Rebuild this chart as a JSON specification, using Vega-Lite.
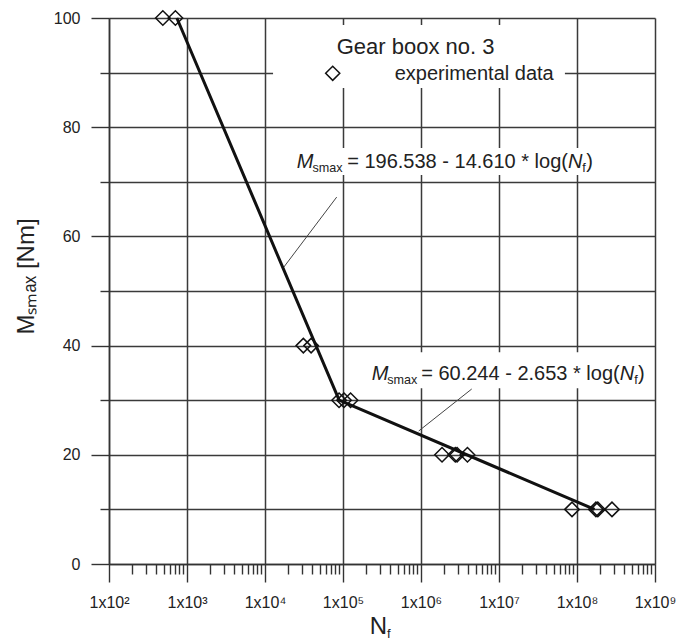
{
  "$schema": "https://vega.github.io/schema/vega-lite/v6.json",
  "width": 546,
  "height": 546,
  "autosize": {"type": "none"},
  "padding": {"left": 109, "top": 18, "right": 36, "bottom": 78},
  "background": "white",
  "config": {"view": {"stroke": null}, "font": "Liberation Sans"},
  "datasets": {
    "boxes": [
      {"N1": 12680, "N2": 7.0e7, "M1": 98.7, "M2": 87.2},
      {"N1": 21990, "N2": 1.955e8, "M1": 76.2, "M2": 71.25},
      {"N1": 195400, "N2": 8.0e8, "M1": 38.8, "M2": 32.2}
    ],
    "leaders": [
      {"N1": 83000, "M1": 67.2, "N2": 17060, "M2": 54.2},
      {"N1": 4.47e6, "M1": 32.05, "N2": 9.35e5, "M2": 24.36}
    ],
    "fit": [
      {"N": 741, "M": 100},
      {"N": 89200, "M": 30.0},
      {"N": 1.68e8, "M": 10}
    ],
    "pts": [
      {"N": 490, "M": 100}, {"N": 710, "M": 100},
      {"N": 31000, "M": 40}, {"N": 39000, "M": 40},
      {"N": 89000, "M": 30}, {"N": 103000, "M": 30}, {"N": 125000, "M": 30},
      {"N": 1.86e6, "M": 20}, {"N": 2.75e6, "M": 20}, {"N": 2.9e6, "M": 20}, {"N": 3.94e6, "M": 20},
      {"N": 8.63e7, "M": 10}, {"N": 1.75e8, "M": 10}, {"N": 1.85e8, "M": 10}, {"N": 2.81e8, "M": 10}
    ],
    "legendpt": [{"N": 73800, "M": 89.87}],
    "txt": [
      {"grp": "eqItal", "t": "M", "N": 25470, "M": 72.53},
      {"grp": "eqSub", "t": "smax", "N": 40640, "M": 72.53},
      {"grp": "eqReg", "t": "= 196.538 - 14.610 * log(", "N": 113200, "M": 72.53},
      {"grp": "eqItal", "t": "N", "N": 7.64e7, "M": 72.53},
      {"grp": "eqSub", "t": "f", "N": 1.17e8, "M": 72.53},
      {"grp": "eqReg", "t": ")", "N": 1.315e8, "M": 72.53},
      {"grp": "eqItal", "t": "M", "N": 233400, "M": 33.7},
      {"grp": "eqSub", "t": "smax", "N": 369000, "M": 33.7},
      {"grp": "eqReg", "t": "= 60.244 - 2.653 * log(", "N": 1.006e6, "M": 33.7},
      {"grp": "eqItal", "t": "N", "N": 3.52e8, "M": 33.7},
      {"grp": "eqSub", "t": "f", "N": 5.40e8, "M": 33.7},
      {"grp": "eqReg", "t": ")", "N": 6.05e8, "M": 33.7},
      {"grp": "title", "t": "Gear boox no. 3", "N": 83000, "M": 93.4},
      {"grp": "legend", "t": "experimental data", "N": 460300, "M": 88.64},
      {"grp": "xtitle", "t": "N", "N": 219600, "M": -12.8},
      {"grp": "xsub", "t": "f", "N": 366600, "M": -12.8}
    ]
  },
  "layer": [
    {
      "data": {"name": "boxes"},
      "mark": {"type": "rect", "fill": "white", "stroke": null},
      "encoding": {
        "x": {
          "field": "N1", "type": "quantitative",
          "scale": {"type": "log", "domain": [100, 1e9], "nice": false},
          "axis": {
            "title": null,
            "values": [100, 200, 300, 400, 500, 600, 700, 800, 900,
                       1000, 2000, 3000, 4000, 5000, 6000, 7000, 8000, 9000,
                       10000, 20000, 30000, 40000, 50000, 60000, 70000, 80000, 90000,
                       1e5, 2e5, 3e5, 4e5, 5e5, 6e5, 7e5, 8e5, 9e5,
                       1e6, 2e6, 3e6, 4e6, 5e6, 6e6, 7e6, 8e6, 9e6,
                       1e7, 2e7, 3e7, 4e7, 5e7, 6e7, 7e7, 8e7, 9e7,
                       1e8, 2e8, 3e8, 4e8, 5e8, 6e8, 7e8, 8e8, 9e8, 1e9],
            "labelExpr": "abs(log(datum.value)/LN10 - round(log(datum.value)/LN10)) < 0.001 ? '1x10' + ['⁰','¹','²','³','⁴','⁵','⁶','⁷','⁸','⁹'][round(log(datum.value)/LN10)] : ''",
            "grid": true,
            "gridColor": "#3a3a3a",
            "gridWidth": 1.5,
            "gridOpacity": {"condition": {"test": "abs(log(datum.value)/LN10 - round(log(datum.value)/LN10)) < 0.001", "value": 1}, "value": 0},
            "tickSize": {"condition": {"test": "abs(log(datum.value)/LN10 - round(log(datum.value)/LN10)) < 0.001", "value": 18}, "value": 10},
            "tickColor": "#333",
            "tickWidth": 1.4,
            "domainColor": "#333",
            "domainWidth": 1.5,
            "labelFont": "Liberation Sans",
            "labelFontSize": 16,
            "labelColor": "#222",
            "labelPadding": 12,
            "labelFlush": false,
            "labelOverlap": false,
            "labelBound": false
          }
        },
        "x2": {"field": "N2"},
        "y": {
          "field": "M1", "type": "quantitative",
          "scale": {"domain": [0, 100], "nice": false, "zero": false},
          "axis": {
            "title": "Mₛₘₐₓ [Nm]",
            "values": [0, 10, 20, 30, 40, 50, 60, 70, 80, 90, 100],
            "labelExpr": "datum.value % 20 == 0 ? datum.label : ''",
            "grid": true,
            "gridColor": "#3a3a3a",
            "gridWidth": 1.5,
            "tickSize": {"condition": {"test": "datum.value % 20 == 0", "value": 18}, "value": 9},
            "tickColor": "#333",
            "tickWidth": 1.4,
            "domainColor": "#333",
            "domainWidth": 1.5,
            "labelFont": "Liberation Sans",
            "labelFontSize": 16,
            "labelColor": "#222",
            "labelPadding": 11,
            "labelOverlap": false,
            "labelFlush": false,
            "titleFont": "Liberation Sans",
            "titleFontSize": 24,
            "titleFontWeight": "normal",
            "titleColor": "#222",
            "titlePadding": 15,
            "titleY": 258
          }
        },
        "y2": {"field": "M2"}
      }
    },
    {
      "data": {"name": "leaders"},
      "mark": {"type": "rule", "stroke": "#444", "strokeWidth": 1},
      "encoding": {
        "x": {"field": "N1", "type": "quantitative"},
        "x2": {"field": "N2"},
        "y": {"field": "M1", "type": "quantitative"},
        "y2": {"field": "M2"}
      }
    },
    {
      "data": {"name": "fit"},
      "mark": {"type": "line", "stroke": "#111", "strokeWidth": 3},
      "encoding": {
        "x": {"field": "N", "type": "quantitative"},
        "y": {"field": "M", "type": "quantitative"}
      }
    },
    {
      "data": {"name": "pts"},
      "mark": {"type": "point", "shape": "diamond", "filled": false, "stroke": "#111", "strokeWidth": 1.5, "size": 210, "opacity": 1},
      "encoding": {
        "x": {"field": "N", "type": "quantitative"},
        "y": {"field": "M", "type": "quantitative"}
      }
    },
    {
      "data": {"name": "legendpt"},
      "mark": {"type": "point", "shape": "diamond", "filled": false, "stroke": "#111", "strokeWidth": 1.5, "size": 200, "opacity": 1},
      "encoding": {
        "x": {"field": "N", "type": "quantitative"},
        "y": {"field": "M", "type": "quantitative"}
      }
    },
    {
      "data": {"name": "txt"},
      "transform": [{"filter": "datum.grp == 'eqItal'"}],
      "mark": {"type": "text", "font": "Liberation Sans", "fontSize": 20, "fontStyle": "italic", "align": "left", "baseline": "alphabetic", "color": "#222"},
      "encoding": {
        "x": {"field": "N", "type": "quantitative"},
        "y": {"field": "M", "type": "quantitative"},
        "text": {"field": "t"}
      }
    },
    {
      "data": {"name": "txt"},
      "transform": [{"filter": "datum.grp == 'eqSub'"}],
      "mark": {"type": "text", "font": "Liberation Sans", "fontSize": 12.6, "align": "left", "baseline": "alphabetic", "dy": 4, "color": "#222"},
      "encoding": {
        "x": {"field": "N", "type": "quantitative"},
        "y": {"field": "M", "type": "quantitative"},
        "text": {"field": "t"}
      }
    },
    {
      "data": {"name": "txt"},
      "transform": [{"filter": "datum.grp == 'eqReg'"}],
      "mark": {"type": "text", "font": "Liberation Sans", "fontSize": 20, "align": "left", "baseline": "alphabetic", "color": "#222"},
      "encoding": {
        "x": {"field": "N", "type": "quantitative"},
        "y": {"field": "M", "type": "quantitative"},
        "text": {"field": "t"}
      }
    },
    {
      "data": {"name": "txt"},
      "transform": [{"filter": "datum.grp == 'title'"}],
      "mark": {"type": "text", "font": "Liberation Sans", "fontSize": 22, "align": "left", "baseline": "alphabetic", "color": "#222"},
      "encoding": {
        "x": {"field": "N", "type": "quantitative"},
        "y": {"field": "M", "type": "quantitative"},
        "text": {"field": "t"}
      }
    },
    {
      "data": {"name": "txt"},
      "transform": [{"filter": "datum.grp == 'legend'"}],
      "mark": {"type": "text", "font": "Liberation Sans", "fontSize": 20, "align": "left", "baseline": "alphabetic", "color": "#222"},
      "encoding": {
        "x": {"field": "N", "type": "quantitative"},
        "y": {"field": "M", "type": "quantitative"},
        "text": {"field": "t"}
      }
    },
    {
      "data": {"name": "txt"},
      "transform": [{"filter": "datum.grp == 'xtitle'"}],
      "mark": {"type": "text", "font": "Liberation Sans", "fontSize": 24, "align": "left", "baseline": "alphabetic", "color": "#222"},
      "encoding": {
        "x": {"field": "N", "type": "quantitative"},
        "y": {"field": "M", "type": "quantitative"},
        "text": {"field": "t"}
      }
    },
    {
      "data": {"name": "txt"},
      "transform": [{"filter": "datum.grp == 'xsub'"}],
      "mark": {"type": "text", "font": "Liberation Sans", "fontSize": 13, "align": "left", "baseline": "alphabetic", "dy": 4, "color": "#222"},
      "encoding": {
        "x": {"field": "N", "type": "quantitative"},
        "y": {"field": "M", "type": "quantitative"},
        "text": {"field": "t"}
      }
    }
  ]
}
